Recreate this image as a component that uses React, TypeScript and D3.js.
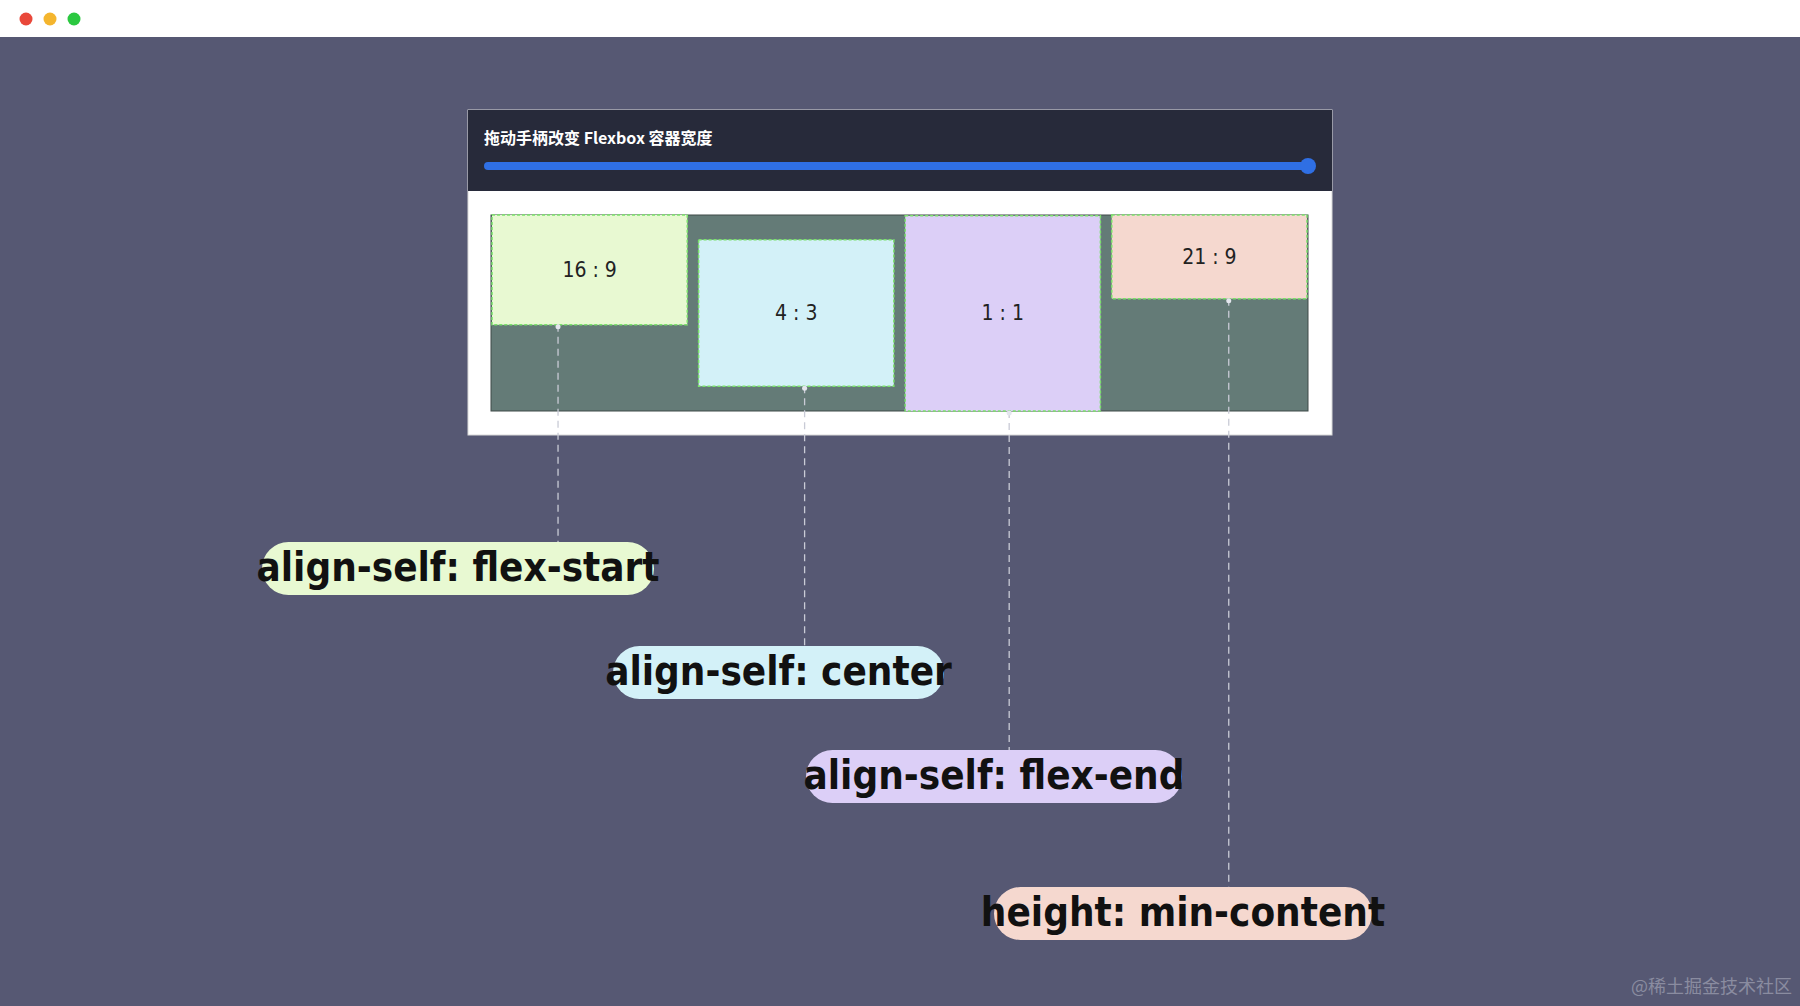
import React from 'react';
import * as d3 from 'd3';

const ratioLabels = ['16 : 9', '4 : 3', '1 : 1', '21 : 9'];
const ratioW = [16, 4, 1, 21];
const ratioH = [9, 3, 1, 9];
const alignments = ['start', 'center', 'end', 'start'];
const propLabels = ['align-self: flex-start', 'align-self: center', 'align-self: flex-end', 'height: min-content'];
const fills = ['#e8f9d2', '#d3f1f8', '#dccff7', '#f5d8cf'];
const pillBoxes = [[262, 542, 392], [613, 646, 331], [806, 750, 376], [994, 887, 378]];

const W = 1800, H = 1006;
const cont = { x: 491, y: 215, w: 817, h: 196 };

const App: React.FC = () => {
  const x = d3.scaleBand<number>().domain(d3.range(4)).range([cont.x, cont.x + cont.w]).paddingInner(0.055).paddingOuter(0.005);
  const bw = x.bandwidth();
  const y = d3.scaleLinear().domain([0, cont.h]).range([0, cont.h]).clamp(true);
  const cond = '"Liberation Sans Narrow", "DejaVu Sans Condensed", "Roboto", sans-serif';

  const boxes = ratioLabels.map((lab, i) => {
    const h = y((bw * ratioH[i]) / ratioW[i]);
    const top = alignments[i] === 'start' ? cont.y : alignments[i] === 'center' ? cont.y + (cont.h - h) / 2 : cont.y + cont.h - h;
    return { lab, i, x: x(i)!, top, h };
  });

  return (
    <svg width={W} height={H} style={{ position: 'fixed', left: 0, top: 0 }}>
      <rect width={W} height={H} fill="#565873" />
      <rect width={W} height={37} fill="#ffffff" />
      {['#e9483a', '#f4b52e', '#2bc840'].map((c, i) => (
        <circle key={c} cx={26 + i * 24} cy={19} r={6.5} fill={c} />
      ))}
      <rect x={468} y={110} width={864} height={325} fill="#ffffff" stroke="#d9d9d9" />
      <rect x={468} y={110} width={864} height={81} fill="#272a3a" />
      <text x={484} y={144} fill="#ffffff" fontSize={16} fontWeight="bold"
        fontFamily='"Noto Sans CJK SC", sans-serif'>拖动手柄改变 Flexbox 容器宽度</text>
      <line x1={488} x2={1305} y1={166} y2={166} stroke="#2f6fe4" strokeWidth={8} strokeLinecap="round" />
      <circle cx={1308} cy={166} r={8} fill="#2f6fe4" />
      <rect x={cont.x} y={cont.y} width={cont.w} height={cont.h} fill="#647b77" stroke="#3f4a48" />
      {boxes.map(b => (
        <g key={b.i}>
          <rect x={b.x} y={b.top} width={bw} height={b.h} fill={fills[b.i]} stroke="#7be26b" strokeWidth={1.5} strokeDasharray="3,2" />
          <text x={b.x + bw / 2} y={b.top + b.h / 2 + 7} textAnchor="middle" fontSize={21} fill="#222"
            fontFamily={cond}>{b.lab}</text>
        </g>
      ))}
      {boxes.map((b, i) => {
        const lx = b.x + (i === 0 ? 66 : i === 1 ? 106 : i === 2 ? 104 : 117);
        const [px, py, pw] = pillBoxes[i];
        return (
          <g key={'l' + i}>
            <line x1={lx} x2={lx} y1={b.top + b.h} y2={py} stroke="#c9cbd6" strokeWidth={1.3} strokeDasharray="7,5" />
            <circle cx={lx} cy={b.top + b.h + 2} r={2.5} fill="#e4e6ee" />
            <rect x={px} y={py} width={pw} height={53} rx={26.5} fill={fills[i]} />
            <text x={px + pw / 2} y={py + 39} textAnchor="middle" fontSize={40} fontWeight="bold" fill="#111"
              fontFamily={cond}>{propLabels[i]}</text>
          </g>
        );
      })}
      <text x={1792} y={993} textAnchor="end" fontSize={18} fill="#8a8ca0" fontFamily='"Noto Sans CJK SC", sans-serif'>@稀土掘金技术社区</text>
    </svg>
  );
};

export default App;
